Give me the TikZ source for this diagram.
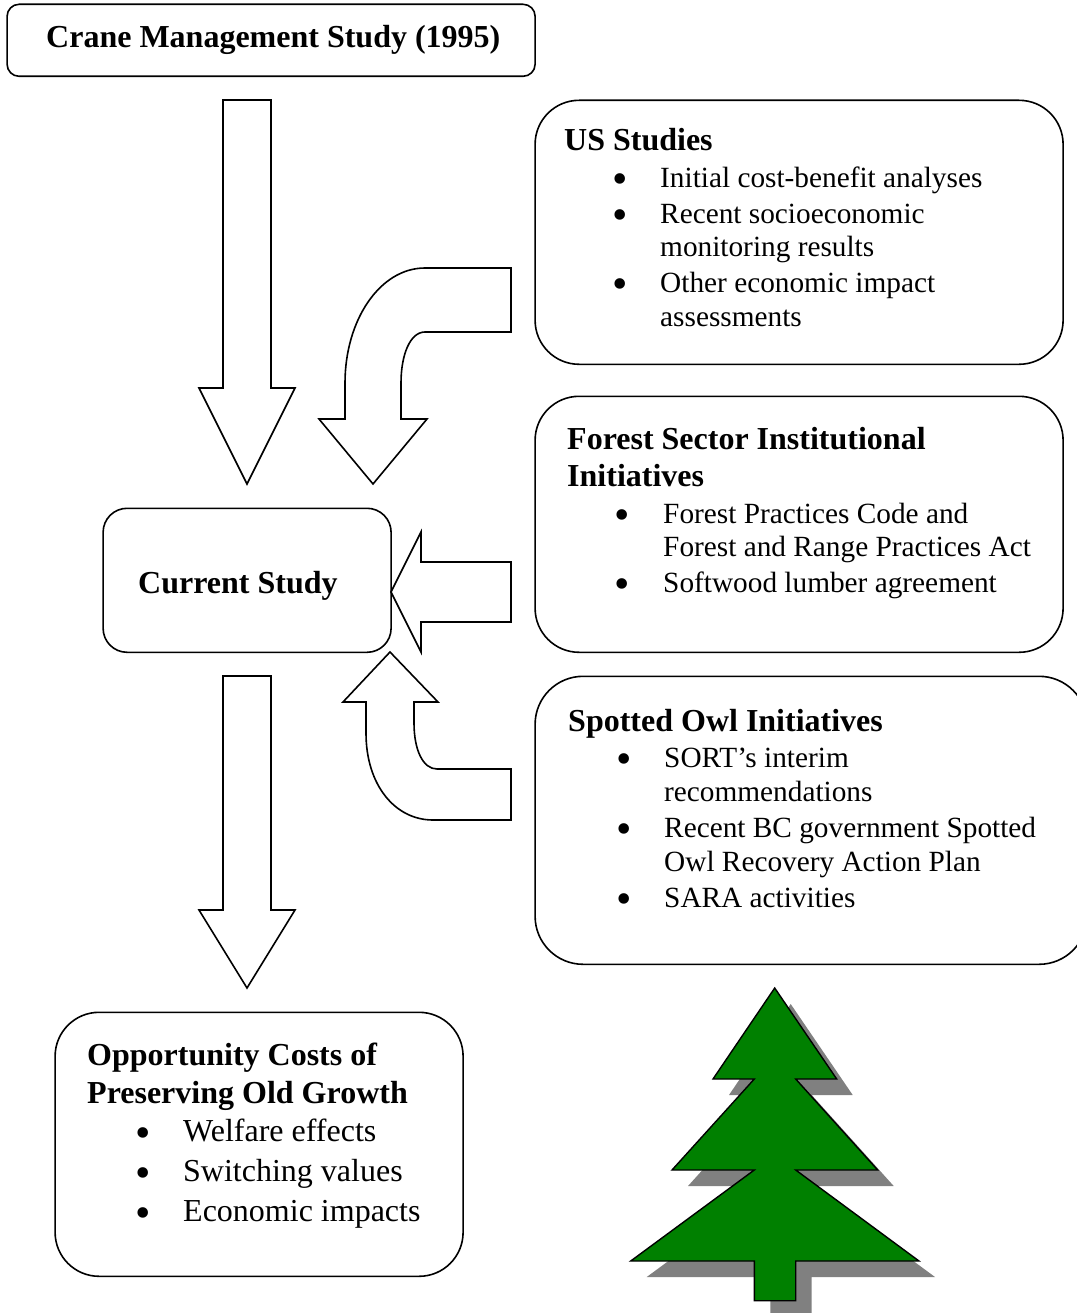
\documentclass[tikz,border=0pt]{standalone}
\usepackage{fontspec}
\setmainfont{Liberation Serif}
\tikzset{
 boxn/.style={draw,line width=1.6pt,inner sep=0pt,anchor=north west},
 arrowshape/.style={draw,line width=1.6pt,line join=miter,fill=white},
 head/.style={anchor=base west,inner sep=0pt,yshift=-0.8pt,font=\fontsize{32}{32}\selectfont\bfseries},
 body/.style={anchor=base west,inner sep=0pt,yshift=-0.8pt,font=\fontsize{29.3}{29.3}\selectfont},
 bodyb/.style={anchor=base west,inner sep=0pt,yshift=-0.8pt,font=\fontsize{32}{32}\selectfont},
 bul/.style={anchor=base,inner sep=0pt,yshift=-6.8pt,font=\fontsize{44}{44}\selectfont},
}
\begin{document}
\begin{tikzpicture}[x=1pt,y=-1pt]
\useasboundingbox (0,0) rectangle (1076,1313);
% boxes
\node[boxn,minimum width=528pt,minimum height=72pt,rounded corners=12pt] (crane) at (6.3,3.5) {};
\node[boxn,minimum width=528pt,minimum height=264pt,rounded corners=44pt] (us) at (534.3,99.5) {};
\node[boxn,minimum width=528pt,minimum height=256pt,rounded corners=44pt] (forest) at (534.3,395.5) {};
\node[boxn,minimum width=552pt,minimum height=288pt,rounded corners=48pt] (owl) at (534.3,675.5) {};
\node[boxn,minimum width=288pt,minimum height=144pt,rounded corners=24pt] (current) at (102.3,507.5) {};
\node[boxn,minimum width=408pt,minimum height=264pt,rounded corners=44pt] (opp) at (54.3,1011.5) {};
% arrows
\draw[arrowshape] (223,100)--(271,100)--(271,388)--(295,388)--(247,484)--(199,388)--(223,388)--cycle;
\draw[arrowshape] (223,676)--(271,676)--(271,910)--(295,910)--(247,988)--(199,910)--(223,910)--cycle;
\draw[arrowshape] (511,268)--(511,332)--(425,332) .. controls (410,332) and (401,355) .. (401,383) --(401,419)--(427,419)--(373,484)--(319,419)--(345,419)--(345,383) .. controls (345,320) and (380,268) .. (425,268) --cycle;
\draw[arrowshape] (391,592)--(421,532)--(421,562)--(511,562)--(511,622)--(421,622)--(421,652)--cycle;
\draw[arrowshape] (390,652)--(438,702)--(414,702)--(414,723) .. controls (414,750) and (423,769) .. (437,769) --(511,769)--(511,820)--(433,820) .. controls (395,820) and (366,785) .. (366,733) --(366,702)--(343,702)--cycle;
% tree
\def\treepath{(774.7,988)--(836.7,1079)--(795.7,1079)--(877.7,1170)--(795.7,1170)--(919,1261)--(795.7,1261)--(795.7,1300.7)--(754.3,1300.7)--(754.3,1261)--(630.7,1261)--(754.3,1170)--(672,1170)--(754.3,1079)--(713,1079)--cycle}
\fill[fill={rgb,255:red,128;green,128;blue,128},shift={(16,16)}] \treepath;
\draw[line width=1.4pt,fill={rgb,255:red,0;green,128;blue,0},line join=miter] \treepath;
% texts
\node[head] (t1) at (46,47) {Crane Management Study (1995)};
\node[head] (t2) at (564,150) {US Studies};
\node[body] (u1) at (660,187) {Initial cost-benefit analyses};
\node[body] (u2) at (660,223) {Recent socioeconomic};
\node[body] (u3) at (660,256) {monitoring results};
\node[body] (u4) at (660,292) {Other economic impact};
\node[body] (u5) at (660,326) {assessments};
\node[bul] (ub1) at (620,187) {•};
\node[bul] (ub2) at (620,223) {•};
\node[bul] (ub3) at (620,292) {•};
\node[head] (t3) at (567,449) {Forest Sector Institutional};
\node[head] (t4) at (567,486) {Initiatives};
\node[body] (f1) at (663,523) {Forest Practices Code and};
\node[body] (f2) at (663,556) {Forest and Range Practices Act};
\node[body] (f3) at (663,592) {Softwood lumber agreement};
\node[bul] (fb1) at (622,523) {•};
\node[bul] (fb2) at (622,592) {•};
\node[head] (t5) at (138,593) {Current Study};
\node[head] (t6) at (568,731) {Spotted Owl Initiatives};
\node[body] (s1) at (664,767) {SORT’s interim};
\node[body] (s2) at (664,801) {recommendations};
\node[body] (s3) at (664,837) {Recent BC government Spotted};
\node[body] (s4) at (664,871) {Owl Recovery Action Plan};
\node[body] (s5) at (664,907) {SARA activities};
\node[bul] (sb1) at (624,767) {•};
\node[bul] (sb2) at (624,837) {•};
\node[bul] (sb3) at (624,907) {•};
\node[head] (t7) at (87,1065) {Opportunity Costs of};
\node[head] (t8) at (87,1103) {Preserving Old Growth};
\node[bodyb] (o1) at (183,1141) {Welfare effects};
\node[bodyb] (o2) at (183,1181) {Switching values};
\node[bodyb] (o3) at (183,1221) {Economic impacts};
\node[bul] (ob1) at (143,1141) {•};
\node[bul] (ob2) at (143,1181) {•};
\node[bul] (ob3) at (143,1221) {•};
\end{tikzpicture}
\end{document}
